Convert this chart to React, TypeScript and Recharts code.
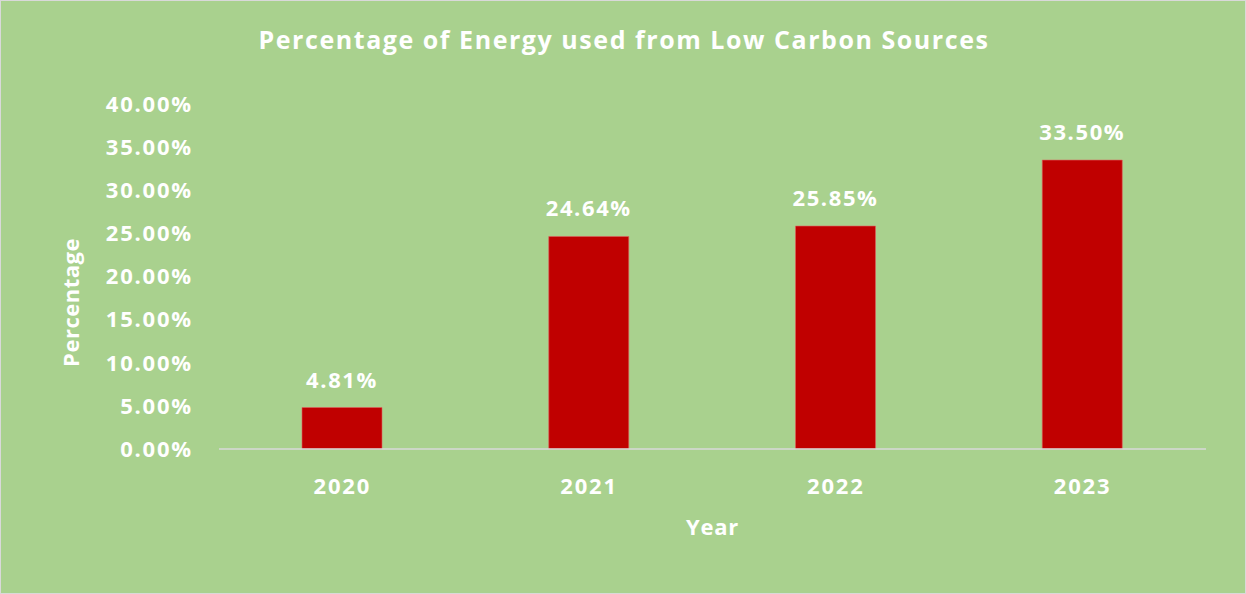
import React from "react";
import { BarChart, Bar, XAxis, YAxis, LabelList, Label } from "recharts";

const years = ["2020", "2021", "2022", "2023"];
const shares = [4.81, 24.64, 25.85, 33.5];
const yTicks = [0, 5, 10, 15, 20, 25, 30, 35, 40];

const data = years.map((year, i) => ({ year, share: shares[i] }));

const FONT = "'Open Sans', sans-serif";
const fmt = (v: number) => `${Number(v).toFixed(2)}%`;

export default function App() {
  return (
    <div
      style={{
        position: "absolute",
        left: 0,
        top: 0,
        width: 1246,
        height: 594,
        background: "#A9D18E",
        boxSizing: "border-box",
        border: "1px solid #D9D9D9",
        fontFamily: FONT,
      }}
    >
      <div
        style={{
          position: "absolute",
          left: 0,
          top: 21,
          width: 1246,
          textAlign: "center",
          color: "#FFFFFF",
          fontWeight: 700,
          fontSize: 25,
          letterSpacing: 1.55,
        }}
      >
        Percentage of Energy used from Low Carbon Sources
      </div>
      <div style={{ position: "absolute", left: -1, top: -1 }}>
        <BarChart
          width={1246}
          height={594}
          data={data}
          margin={{ top: 104, right: 40, bottom: 0, left: 0 }}
          barSize={80}
        >
          <XAxis
            dataKey="year"
            axisLine={{ stroke: "#D9D9D9", strokeWidth: 1.5 }}
            tickLine={false}
            tickSize={0}
            tickMargin={29}
            tick={{ fill: "#FFFFFF", fontSize: 22, fontWeight: 700, fontFamily: FONT, letterSpacing: 1.8 }}
            height={145}
          >
            <Label
              value="Year"
              position="insideTop"
              offset={70}
              fill="#FFFFFF"
              fontSize={22}
              fontWeight={700}
              fontFamily={FONT}
              style={{ letterSpacing: 0.8 }}
            />
          </XAxis>
          <YAxis
            width={219}
            domain={[0, 40]}
            ticks={yTicks}
            interval={0}
            tickFormatter={fmt}
            axisLine={false}
            tickLine={false}
            tickSize={0}
            tickMargin={26}
            tick={{ fill: "#FFFFFF", fontSize: 22, fontWeight: 700, fontFamily: FONT, letterSpacing: 1.8 }}
          >
            <Label
              value="Percentage"
              angle={-90}
              position="insideLeft"
              offset={71}
              dy={26}
              fill="#FFFFFF"
              fontSize={22}
              fontWeight={700}
              fontFamily={FONT}
              style={{ textAnchor: "middle", letterSpacing: 0.5 }}
            />
          </YAxis>
          <Bar dataKey="share" fill="#C00000" stroke="#E06060" strokeWidth={0.6} isAnimationActive={false}>
            <LabelList
              dataKey="share"
              position="top"
              offset={20}
              formatter={(v: any) => fmt(v)}
              fill="#FFFFFF"
              fontSize={22}
              fontWeight={700}
              fontFamily={FONT}
              style={{ letterSpacing: 1.6 }}
            />
          </Bar>
        </BarChart>
      </div>
    </div>
  );
}
